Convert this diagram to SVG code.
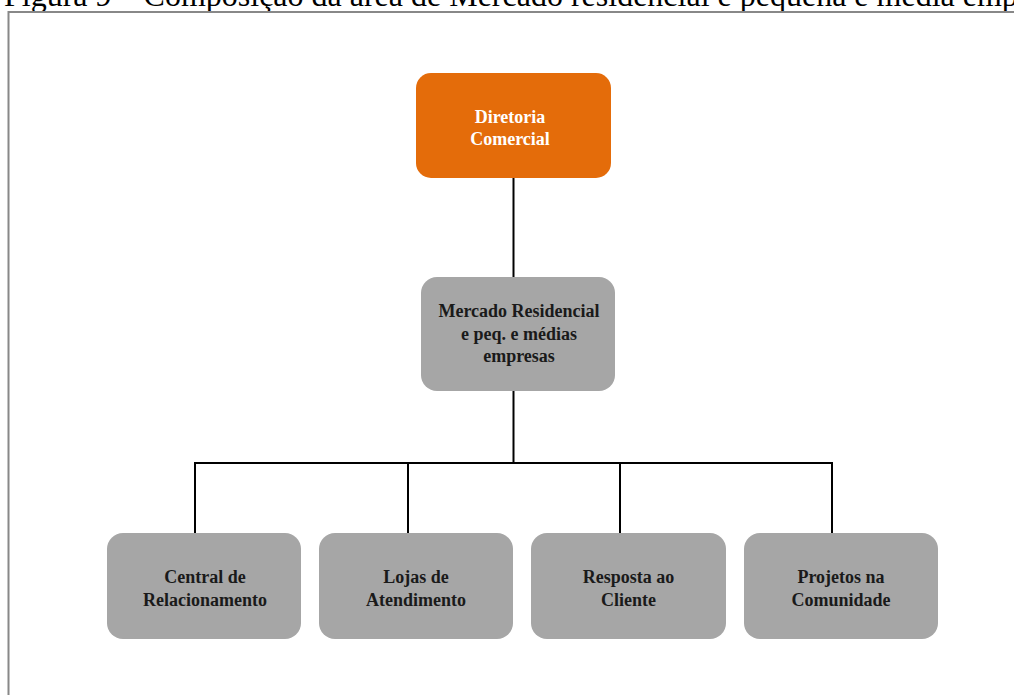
<svg xmlns="http://www.w3.org/2000/svg" width="1014" height="695" viewBox="0 0 1014 695">
<style>
.title{font-family:"Liberation Serif","Times New Roman",serif;font-size:32px;fill:#000}
.box{fill:#A6A6A6}
.orange{fill:#E46C0A}
.lbl{font-family:"Liberation Serif","Times New Roman",serif;font-size:18px;font-weight:bold;text-anchor:middle;fill:#1a1a1a}
.wlbl{font-family:"Liberation Serif","Times New Roman",serif;font-size:18px;font-weight:bold;text-anchor:middle;fill:#ffffff}
.conn{stroke:#000;stroke-width:2;fill:none}
</style>
<rect width="1014" height="695" fill="#fff"/>
<text class="title" x="4" y="5.5">Figura 9 – Composição da área de Mercado residencial e pequena e média empresas</text>
<rect x="8.5" y="12" width="1100" height="800" fill="none" stroke="#888" stroke-width="2"/>
<g id="connectors">
<line class="conn" x1="513.5" y1="178" x2="513.5" y2="277"/>
<line class="conn" x1="513.5" y1="391" x2="513.5" y2="463"/>
<line class="conn" x1="194" y1="463" x2="833" y2="463"/>
<line class="conn" x1="195" y1="463" x2="195" y2="533"/>
<line class="conn" x1="408" y1="463" x2="408" y2="533"/>
<line class="conn" x1="620" y1="463" x2="620" y2="533"/>
<line class="conn" x1="832" y1="463" x2="832" y2="533"/>
</g>
<g id="diretoria">
<rect class="orange" x="416" y="73" width="195" height="105" rx="15"/>
<text class="wlbl" x="510" y="123">Diretoria</text>
<text class="wlbl" x="510" y="145">Comercial</text>
</g>
<g id="mercado">
<rect class="box" x="421" y="277" width="194" height="114" rx="16"/>
<text class="lbl" x="519" y="317">Mercado Residencial</text>
<text class="lbl" x="519" y="340">e peq. e médias</text>
<text class="lbl" x="519" y="362">empresas</text>
</g>
<g id="central">
<rect class="box" x="107" y="533" width="194" height="106" rx="16"/>
<text class="lbl" x="205" y="583">Central de</text>
<text class="lbl" x="205" y="606">Relacionamento</text>
</g>
<g id="lojas">
<rect class="box" x="319" y="533" width="194" height="106" rx="16"/>
<text class="lbl" x="416" y="583">Lojas de</text>
<text class="lbl" x="416" y="606">Atendimento</text>
</g>
<g id="resposta">
<rect class="box" x="531" y="533" width="195" height="106" rx="16"/>
<text class="lbl" x="628.5" y="583">Resposta ao</text>
<text class="lbl" x="628.5" y="606">Cliente</text>
</g>
<g id="projetos">
<rect class="box" x="744" y="533" width="194" height="106" rx="16"/>
<text class="lbl" x="841" y="583">Projetos na</text>
<text class="lbl" x="841" y="606">Comunidade</text>
</g>
</svg>
